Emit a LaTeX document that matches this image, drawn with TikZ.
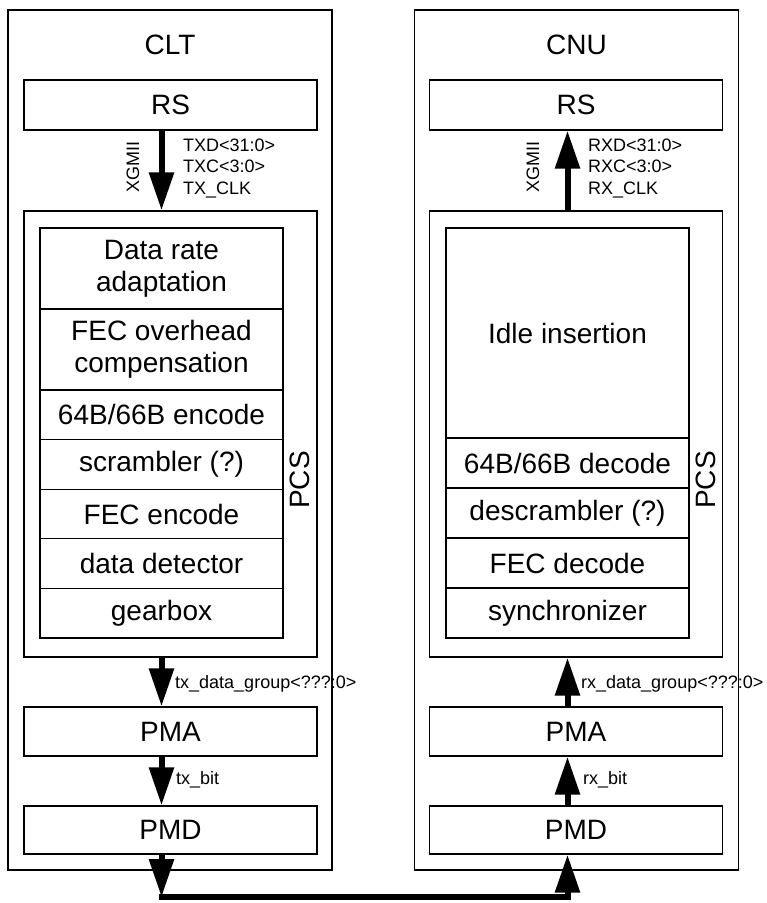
\documentclass[tikz,border=0pt]{standalone}
\usepackage{fontspec}
\setmainfont{Liberation Sans}
\usetikzlibrary{arrows.meta}
\tikzset{
  station/.style={draw, line width=1.4pt, minimum width=324pt, minimum height=860pt, inner sep=0pt},
  layer/.style={draw, line width=1.4pt, minimum width=293pt, inner sep=0pt, font=\fontsize{28}{32}\selectfont},
  sublayer/.style={draw, line width=1.2pt, minimum width=243pt, inner sep=0pt, align=center, font=\fontsize{28}{32}\selectfont},
  big/.style={inner sep=0pt, font=\fontsize{28}{32}\selectfont},
  sig/.style={inner sep=0pt, align=left, font=\fontsize{18}{21.5}\selectfont},
  bus/.style={line width=6pt, -{Triangle[width=24pt,length=38pt]}}
}

\begin{document}
\begin{tikzpicture}[x=1pt, y=-1pt]
  \useasboundingbox (0,0) rectangle (767,903);
  % CLT side
  \node[station] (clt) at (170,440) {};
  \node[big] (cltname) at (170,45) {CLT};
  \node[layer, minimum height=50pt] (cltrs) at (170.5,105) {RS};
  \node[layer, minimum height=446pt] (cltpcs) at (170.5,434) {};
  \node[big, rotate=90] (cltpcsname) at (300,480) {PCS};
  \node[sublayer, minimum height=81pt] (cltdra) at (161.5,268.5) {Data rate\\adaptation};
  \node[sublayer, minimum height=81pt] (cltfoc) at (161.5,349.5) {FEC overhead\\compensation};
  \node[sublayer, minimum height=49.6pt] (cltenc) at (161.5,414.8) {64B/66B encode};
  \node[sublayer, minimum height=49.6pt] (cltscr) at (161.5,464.4) {scrambler (?)};
  \node[sublayer, minimum height=49.6pt] (cltfec) at (161.5,514) {FEC encode};
  \node[sublayer, minimum height=49.6pt] (cltdet) at (161.5,563.6) {data detector};
  \node[sublayer, minimum height=49.6pt] (cltgear) at (161.5,613.2) {gearbox};
  \node[layer, minimum height=49pt] (cltpma) at (170.5,731.5) {PMA};
  \node[layer, minimum height=48pt] (cltpmd) at (170.5,830) {PMD};

  % CNU side
  \node[station] (cnu) at (576.5,440) {};
  \node[big] (cnuname) at (576.5,45) {CNU};
  \node[layer, minimum height=50pt] (cnurs) at (576,105) {RS};
  \node[layer, minimum height=446pt] (cnupcs) at (576,434) {};
  \node[big, rotate=90] (cnupcsname) at (706,480) {PCS};
  \node[sublayer, minimum height=210pt] (cnuidle) at (567.5,333) {Idle insertion};
  \node[sublayer, minimum height=50pt] (cnudec) at (567.5,463) {64B/66B decode};
  \node[sublayer, minimum height=50pt] (cnudscr) at (567.5,513) {descrambler (?)};
  \node[sublayer, minimum height=50pt] (cnufec) at (567.5,563) {FEC decode};
  \node[sublayer, minimum height=50pt] (cnusync) at (567.5,613) {synchronizer};
  \node[layer, minimum height=49pt] (cnupma) at (576,731.5) {PMA};
  \node[layer, minimum height=48pt] (cnupmd) at (576,830) {PMD};

  % interfaces
  \draw[bus] (cltrs.south -| cltdra) -- (cltpcs.north -| cltdra);
  \node[sig, rotate=90] (cltxgmii) at (133,167) {XGMII};
  \node[sig, anchor=west] (cltxgmiisig) at (183,168) {TXD<31:0>\\TXC<3:0>\\TX\_CLK};
  \draw[bus] (cltpcs.south -| cltdra) -- (cltpma.north -| cltdra);
  \node[sig, anchor=west] (cltgroup) at (175,684) {tx\_data\_group<???:0>};
  \draw[bus] (cltpma.south -| cltdra) -- (cltpmd.north -| cltdra);
  \node[sig, anchor=west] (cltbit) at (176,780) {tx\_bit};

  \draw[bus] (cnupcs.north -| cnuidle) -- (cnurs.south -| cnuidle);
  \node[sig, rotate=90] (cnuxgmii) at (533,167) {XGMII};
  \node[sig, anchor=west] (cnuxgmiisig) at (588,168) {RXD<31:0>\\RXC<3:0>\\RX\_CLK};
  \draw[bus] (cnupma.north -| cnuidle) -- (cnupcs.south -| cnuidle);
  \node[sig, anchor=west] (cnugroup) at (581,684) {rx\_data\_group<???:0>};
  \draw[bus] (cnupmd.north -| cnuidle) -- (cnupma.south -| cnuidle);
  \node[sig, anchor=west] (cnubit) at (583,780) {rx\_bit};

  % link between the two PMDs
  \coordinate (linkl) at (161.5,897);
  \coordinate (linkr) at (567.5,897);
  \draw[bus] (cltpmd.south -| cltdra) -- (linkl);
  \draw[bus, line cap=rect] (linkl) -- (linkr) -- (cnupmd.south -| cnuidle);
\end{tikzpicture}
\end{document}
